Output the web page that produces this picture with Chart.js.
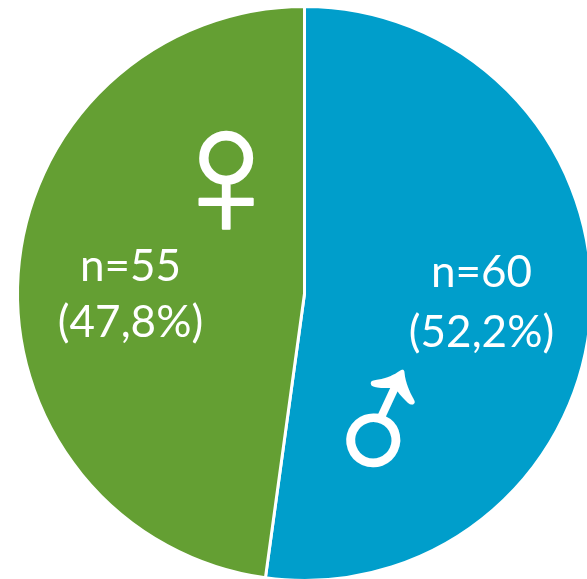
<!DOCTYPE html>
<html><head><meta charset="utf-8">
<style>html,body{margin:0;padding:0;background:#fff;overflow:hidden}canvas{display:block}</style>
<script src="https://cdn.jsdelivr.net/npm/chart.js@4"></script></head>
<body><div style="width:587px;height:579px;overflow:hidden"><canvas id="c" width="600" height="600"></canvas></div>
<script>
const categories = ["Männer","Frauen"];
const counts = [60,55];
const colors = ["#009ecb","#649f33"];
const countLabels = ["n=60","n=55"];
const shareLabels = ["(52,2%)","(47,8%)"];
const symbols = ["♂","♀"];
const labelPlugin = {
  id:"labelPlugin",
  afterDatasetsDraw(chart){
    const ctx=chart.ctx, meta=chart.getDatasetMeta(0);
    const place=[{x:177,y1:-21,y2:39,sx:80,sy:140,rot:-20*Math.PI/180},
                 {x:-174,y1:-27,y2:29,sx:-78.5,sy:-108.5,rot:0}];
    ctx.save();
    ctx.fillStyle="#fff";ctx.strokeStyle="#fff";ctx.textAlign="center";ctx.textBaseline="middle";
    meta.data.forEach((arc,i)=>{
      const p=place[i];
      ctx.font='44px Lato, "Open Sans", sans-serif';
      ctx.fillText(countLabels[i],arc.x+p.x,arc.y+p.y1);
      ctx.fillText(shareLabels[i],arc.x+p.x,arc.y+p.y2);
      ctx.save();
      ctx.translate(arc.x+p.sx,arc.y+p.sy);
      ctx.rotate(p.rot);
      ctx.font='185px "Liberation Sans", "DejaVu Sans"';
      ctx.lineWidth=2;ctx.lineJoin="round";
      ctx.fillText(symbols[i],0,0);
      ctx.strokeText(symbols[i],0,0);
      ctx.restore();
    });
    ctx.restore();
  }
};
new Chart(document.getElementById("c"),{
  type:"pie",
  data:{labels:categories,datasets:[{data:counts,backgroundColor:colors,borderColor:"#fff",borderWidth:3}]},
  options:{responsive:false,animation:false,rotation:0,
    layout:{padding:{left:16,right:7,top:5,bottom:18}},
    plugins:{legend:{display:false},tooltip:{enabled:false}}},
  plugins:[labelPlugin]
});
</script></body></html>
